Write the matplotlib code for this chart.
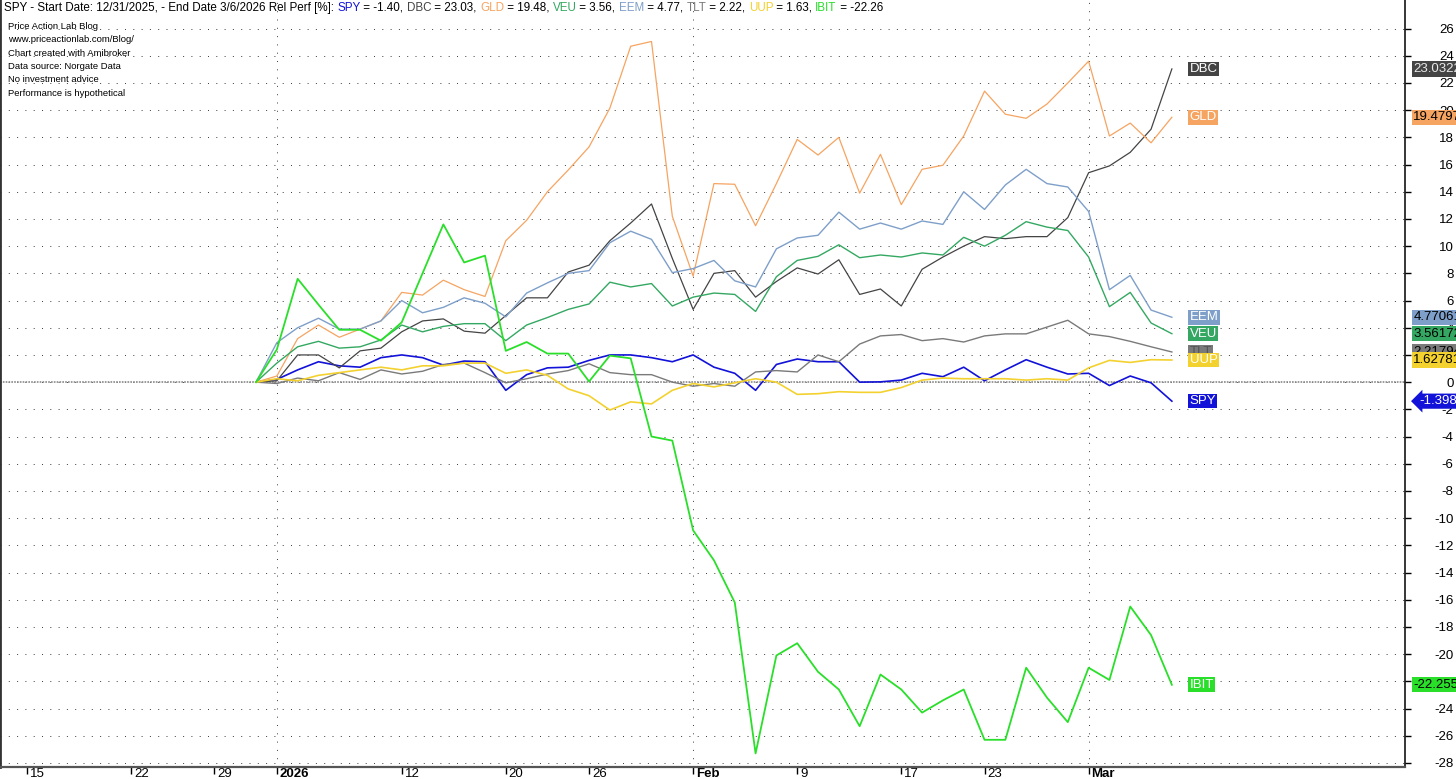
import matplotlib.pyplot as plt
from matplotlib import transforms
import numpy as np
import pandas as pd

plt.rcParams['font.family'] = ['Liberation Sans', 'DejaVu Sans']
plt.rcParams['axes.unicode_minus'] = False

# trading calendar
holidays = ['2025-12-25', '2026-01-01', '2026-01-19', '2026-02-16']
start_date = '2025-12-31'
end_date = '2026-03-06'

# relative performance [%] since 12/31/2025, one value per trading day
spy = [0, 0.2, 0.9, 1.5, 1.2, 1.1, 1.8, 2.0, 1.8, 1.25, 1.55, 1.5,
       -0.6, 0.55, 1.05, 1.1, 1.6, 2.0, 2.0, 1.8, 1.5, 2.0, 1.1,
       0.65, -0.6, 1.3, 1.7, 1.5, 1.5, 0.0, 0.02, 0.15, 0.65, 0.4,
       1.1, 0.1, 0.9, 1.65, 1.1, 0.6, 0.65, -0.25, 0.45, -0.05, -1.39899]
dbc = [0, 0.1, 2.0, 2.0, 1.05, 2.3, 2.5, 3.7, 4.5, 4.65, 3.75, 3.6,
       4.9, 6.2, 6.2, 8.1, 8.6, 10.4, 11.7, 13.1, 9.1, 5.35, 8.0,
       8.2, 6.25, 7.4, 8.4, 7.95, 9.0, 6.45, 6.85, 5.6, 8.3, 9.2,
       10.0, 10.7, 10.55, 10.7, 10.7, 12.1, 15.4, 15.9, 16.9, 18.6, 23.0322]
gld = [0, 0.45, 3.2, 4.2, 3.3, 3.9, 4.5, 6.6, 6.4, 7.5, 6.8, 6.3,
       10.4, 11.9, 14.0, 15.6, 17.3, 20.15, 24.7, 25.05, 12.2, 7.8, 14.6,
       14.55, 11.5, 14.6, 17.85, 16.7, 18.0, 13.9, 16.75, 13.05, 15.65, 15.95,
       18.1, 21.4, 19.7, 19.4, 20.45, 22.0, 23.6, 18.1, 19.05, 17.6, 19.4797]
veu = [0, 1.4, 2.6, 3.0, 2.5, 2.6, 3.1, 4.2, 3.7, 4.1, 4.3, 4.3,
       3.05, 4.2, 4.75, 5.35, 5.75, 7.35, 7.0, 7.25, 5.6, 6.25, 6.55,
       6.45, 5.2, 7.75, 8.95, 9.25, 10.1, 9.15, 9.35, 9.2, 9.5, 9.35,
       10.65, 10.0, 10.8, 11.8, 11.4, 11.15, 9.2, 5.55, 6.6, 4.35, 3.56172]
eem = [0, 2.9, 4.0, 4.7, 3.9, 3.9, 4.5, 6.0, 5.1, 5.5, 6.2, 5.8,
       4.8, 6.55, 7.3, 8.0, 8.2, 10.25, 11.1, 10.5, 8.05, 8.35, 8.95,
       7.45, 7.0, 9.8, 10.6, 10.8, 12.5, 11.25, 11.7, 11.25, 11.85, 11.6,
       14.0, 12.7, 14.5, 15.65, 14.6, 14.35, 12.55, 6.8, 7.85, 5.3, 4.77061]
tlt = [0, -0.1, 0.3, 0.1, 0.7, 0.2, 0.9, 0.6, 0.8, 1.3, 1.4, 0.7,
       -0.05, 0.25, 0.6, 0.85, 1.35, 0.7, 0.55, 0.55, 0.0, -0.3, -0.1,
       -0.3, 0.75, 0.85, 0.75, 2.0, 1.5, 2.8, 3.4, 3.5, 3.05, 3.2,
       2.95, 3.4, 3.55, 3.55, 4.05, 4.55, 3.55, 3.35, 3.0, 2.6, 2.21794]
uup = [0, 0.25, 0.1, 0.5, 0.7, 0.9, 1.1, 0.9, 1.2, 1.2, 1.4, 1.4,
       0.65, 0.9, 0.5, -0.5, -1.0, -2.05, -1.45, -1.6, -0.6, -0.1, -0.35,
       -0.05, 0.25, 0.0, -0.9, -0.85, -0.7, -0.75, -0.75, -0.4, 0.15, 0.3,
       0.25, 0.25, 0.25, 0.15, 0.25, 0.15, 1.05, 1.6, 1.45, 1.65, 1.62781]
ibit = [0, 2.4, 7.6, 5.7, 3.85, 3.85, 3.05, 4.4, 8.0, 11.6, 8.8, 9.3,
        2.3, 2.95, 2.1, 2.1, 0.05, 1.95, 1.75, -4.0, -4.3, -10.9, -13.1,
        -16.2, -27.3, -20.1, -19.2, -21.3, -22.6, -25.3, -21.5, -22.6, -24.3, -23.4,
        -22.6, -26.3, -26.3, -21.0, -23.2, -25.0, -21.0, -21.9, -16.5, -18.6, -22.2558]

tickers = ['SPY', 'DBC', 'GLD', 'VEU', 'EEM', 'TLT', 'UUP', 'IBIT']
series = {'SPY': spy, 'DBC': dbc, 'GLD': gld, 'VEU': veu,
          'EEM': eem, 'TLT': tlt, 'UUP': uup, 'IBIT': ibit}
colors = {'SPY': '#1212D8', 'DBC': '#444444', 'GLD': '#F6A461', 'VEU': '#34A862',
          'EEM': '#7E9FC9', 'TLT': '#7A7A7A', 'UUP': '#F3D12F', 'IBIT': '#2ADF2A'}
widths = {'SPY': 1.2, 'DBC': 0.9, 'GLD': 0.9, 'VEU': 1.0,
          'EEM': 1.0, 'TLT': 1.0, 'UUP': 1.2, 'IBIT': 1.3}
# colour of the text in the right-hand value tags
tag_text = {'SPY': 'white', 'DBC': '#e8e8e8', 'GLD': 'black', 'VEU': 'black',
            'EEM': 'black', 'TLT': 'black', 'UUP': 'black', 'IBIT': 'black'}

tick_dates = ['2025-12-15', '2025-12-22', '2025-12-29', '2026-01-02', '2026-01-12',
              '2026-01-20', '2026-01-26', '2026-02-02', '2026-02-09', '2026-02-17',
              '2026-02-23', '2026-03-02']
tick_labels = ['15', '22', '29', '2026', '12', '20', '26', 'Feb', '9', '17', '23', 'Mar']
bold_labels = ['2026', 'Feb', 'Mar']
month_starts = ['2026-01-02', '2026-02-02', '2026-03-02']

notes = ['Price Action Lab Blog', 'www.priceactionlab.com/Blog/',
         'Chart created with Amibroker', 'Data source: Norgate Data',
         'No investment advice', 'Performance is hypothetical']

cal = pd.bdate_range('2025-12-01', '2026-04-30')
cal = cal[~cal.isin(pd.to_datetime(holidays))]
pos = pd.Series(np.arange(len(cal)), index=cal)
days = cal[(cal >= start_date) & (cal <= end_date)]
x = pos[days].values

W, H = 1456, 779
fig = plt.figure(figsize=(W / 100, H / 100), dpi=100)
ax = fig.add_axes([0.0, 12 / H, 1405 / W, 767 / H])

ax.set_xlim(pos[pd.Timestamp('2025-12-15')] - 1.3, x[-1] + 11.2)
ax.set_ylim(-28.3, 28.1)

dots = (0, (1, 7.3))
ax.set_yticks(np.arange(-28, 27, 2))
ax.grid(axis='y', color='#444444', linewidth=0.72, linestyle=dots)
for d in month_starts:
    ax.axvline(pos[pd.Timestamp(d)], color='#444444', linewidth=0.72, linestyle=dots)
ax.axhline(0, color='#8a8a8a', linewidth=1.2, linestyle=(0, (1, 0.7)))

for name in tickers:
    ax.plot(x, series[name], color=colors[name], linewidth=widths[name])

blend = transforms.blended_transform_factory(ax.transAxes, ax.transData)
for name in tickers:
    v = series[name][-1]
    tc = '#555555' if name == 'TLT' else 'white'
    ax.text(x[-1] + 0.85, v, name, color=tc, fontsize=9.5, va='center', ha='left',
            bbox=dict(boxstyle='square,pad=0.1', fc=colors[name], ec='none'))
    style = 'larrow,pad=0.12' if name == 'SPY' else 'square,pad=0.12'
    xo = 1.010 if name == 'SPY' else 1.006
    ax.text(xo, v, '%.6g' % v, transform=blend, color=tag_text[name], fontsize=9.5,
            va='center', ha='left', clip_on=False, zorder=10,
            bbox=dict(boxstyle=style, fc=colors[name], ec='none'))

# axes styling
ax.yaxis.tick_right()
ax.tick_params(axis='y', direction='out', length=4, width=1, labelsize=9.5, pad=31)
for lab in ax.get_yticklabels():
    lab.set_horizontalalignment('right')

ax.set_xticks(pos[pd.to_datetime(tick_dates)].values, tick_labels)
ax.tick_params(axis='x', direction='out', length=5, width=1, labelsize=9.5, pad=-4)
shift = transforms.ScaledTranslation(3 / 100, 0, fig.dpi_scale_trans)
for lab in ax.get_xticklabels():
    lab.set_horizontalalignment('left')
    lab.set_transform(lab.get_transform() + shift)
    if lab.get_text() in bold_labels:
        lab.set_fontweight('bold')

ax.spines['top'].set_visible(False)
ax.spines['left'].set_color('#333333')
ax.spines['left'].set_linewidth(2)
ax.spines['bottom'].set_color('#555555')
ax.spines['bottom'].set_linewidth(1.6)
ax.spines['right'].set_color('black')
ax.spines['right'].set_linewidth(1.1)

# title with coloured ticker names
pieces = [('SPY - Start Date: 12/31/2025, - End Date 3/6/2026 Rel Perf [%]: ', 'black')]
for i, name in enumerate(tickers):
    sep = ', ' if i < len(tickers) - 1 else ''
    pieces.append((name, colors[name]))
    pieces.append((' = %.2f%s' % (series[name][-1], sep), 'black'))

fs_title = 8.4
t = fig.text(4 / W, 1 - 2 / H, pieces[0][0], fontsize=fs_title, va='top', ha='left')
fig.canvas.draw()
rend = fig.canvas.get_renderer()
for s, c in pieces[1:]:
    bb = t.get_window_extent(rend)
    t = fig.text(bb.x1 / W, bb.y0 / H, s, fontsize=fs_title, color=c, va='bottom', ha='left')
    fig.canvas.draw()

fig.text(8 / W, 1 - 22 / H, '\n'.join(notes), fontsize=6.8, va='top', ha='left',
         linespacing=1.62)

fig.savefig('out.png', dpi=100)
